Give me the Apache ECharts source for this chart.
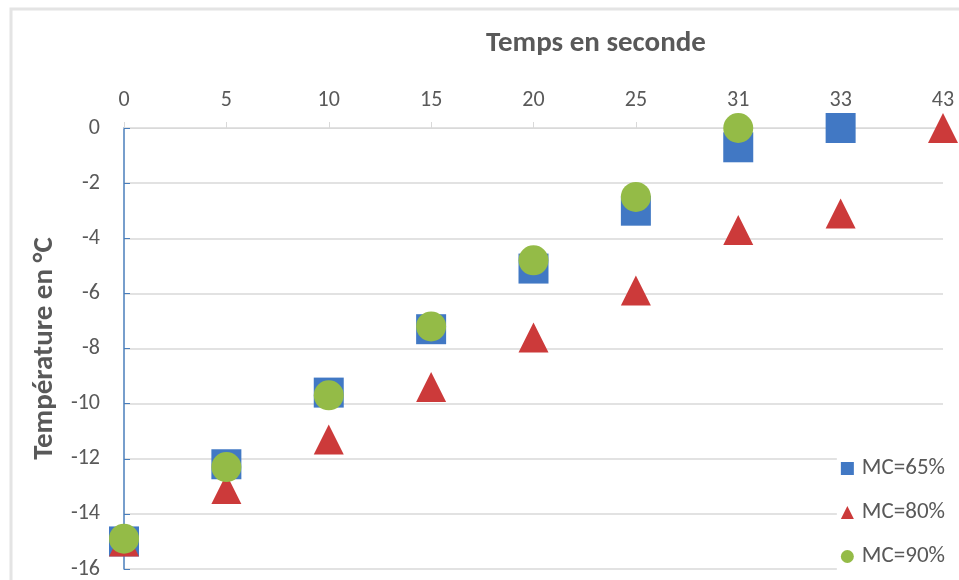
<!DOCTYPE html>
<html>
<head>
<meta charset="utf-8">
<script src="https://cdn.jsdelivr.net/npm/echarts@6/dist/echarts.min.js"></script>
<style>
  html, body { margin: 0; padding: 0; background: #fff; }
  #chart { width: 959px; height: 580px; }
</style>
</head>
<body>
<div id="chart"></div>
<script>
// Time points (seconds) shown on the category axis
const temps = ['0', '5', '10', '15', '20', '25', '31', '33', '43'];

// Temperature (°C) per moisture content
const mc65 = [-15, -12.2, -9.6, -7.3, -5.1, -3.0, -0.7, 0, null];
const mc80 = [-15, -13.1, -11.3, -9.4, -7.6, -5.9, -3.7, -3.1, 0];
const mc90 = [-14.9, -12.3, -9.7, -7.2, -4.8, -2.5, 0, null, null];

const seriesNames = ['MC=65%', 'MC=80%', 'MC=90%'];

const FONT = 'Carlito, "Open Sans", "Liberation Sans", sans-serif';
const TEXT = '#595959';

const chart = echarts.init(document.getElementById('chart'), null, { renderer: 'canvas' });

chart.setOption({
  backgroundColor: '#ffffff',
  animation: false,
  graphic: [{
    type: 'rect',
    z: 0,
    shape: { x: 11, y: 9, width: 960, height: 590 },
    style: { fill: 'none', stroke: '#e4e4e4', lineWidth: 3 }
  }],
  title: {
    text: 'Temps en seconde',
    left: 591,
    top: 24,
    textAlign: 'center',
    textStyle: { fontFamily: FONT, fontSize: 29, fontWeight: 'bold', color: TEXT }
  },
  grid: { left: 124, right: 16, top: 128, bottom: 10 },
  legend: {
    orient: 'vertical',
    right: 12,
    top: 455,
    itemGap: 21,
    itemWidth: 13,
    itemHeight: 13,
    backgroundColor: '#ffffff',
    padding: [2, 2, 2, 4],
    textStyle: { fontFamily: FONT, fontSize: 23, color: TEXT, padding: [0, 0, 0, 3] },
    data: [
      { name: seriesNames[0], icon: 'rect' },
      { name: seriesNames[1], icon: 'triangle' },
      { name: seriesNames[2], icon: 'circle' }
    ]
  },
  xAxis: {
    type: 'category',
    position: 'top',
    data: temps,
    boundaryGap: false,
    axisLine: { show: true, lineStyle: { color: '#d9d9d9', width: 1 } },
    axisTick: { show: true, alignWithLabel: true, length: 6, lineStyle: { color: '#d9d9d9' } },
    axisLabel: { fontFamily: FONT, fontSize: 22, color: TEXT, margin: 17 },
    splitLine: { show: false }
  },
  yAxis: {
    type: 'value',
    min: -16,
    max: 0,
    interval: 2,
    name: 'Température en °C',
    nameLocation: 'middle',
    nameGap: 65,
    nameTextStyle: { fontFamily: FONT, fontSize: 29, fontWeight: 'bold', color: TEXT },
    axisLine: { show: true, lineStyle: { color: '#4a7ebb', width: 1.5 } },
    axisTick: { show: true, inside: true, length: 6, lineStyle: { color: '#4a7ebb' } },
    axisLabel: { fontFamily: FONT, fontSize: 22, color: TEXT, margin: 24 },
    splitLine: { show: true, lineStyle: { color: '#d9d9d9', width: 1.5 } }
  },
  series: [
    {
      name: seriesNames[0],
      type: 'scatter',
      symbol: 'rect',
      symbolSize: 30,
      itemStyle: { color: '#4178c4', opacity: 1 },
      data: mc65
    },
    {
      name: seriesNames[1],
      type: 'scatter',
      symbol: 'triangle',
      symbolSize: 30,
      itemStyle: { color: '#cc3a3a', opacity: 1 },
      data: mc80
    },
    {
      name: seriesNames[2],
      type: 'scatter',
      symbol: 'circle',
      symbolSize: 30,
      itemStyle: { color: '#94bb47', opacity: 1 },
      data: mc90
    }
  ]
});
</script>
</body>
</html>
